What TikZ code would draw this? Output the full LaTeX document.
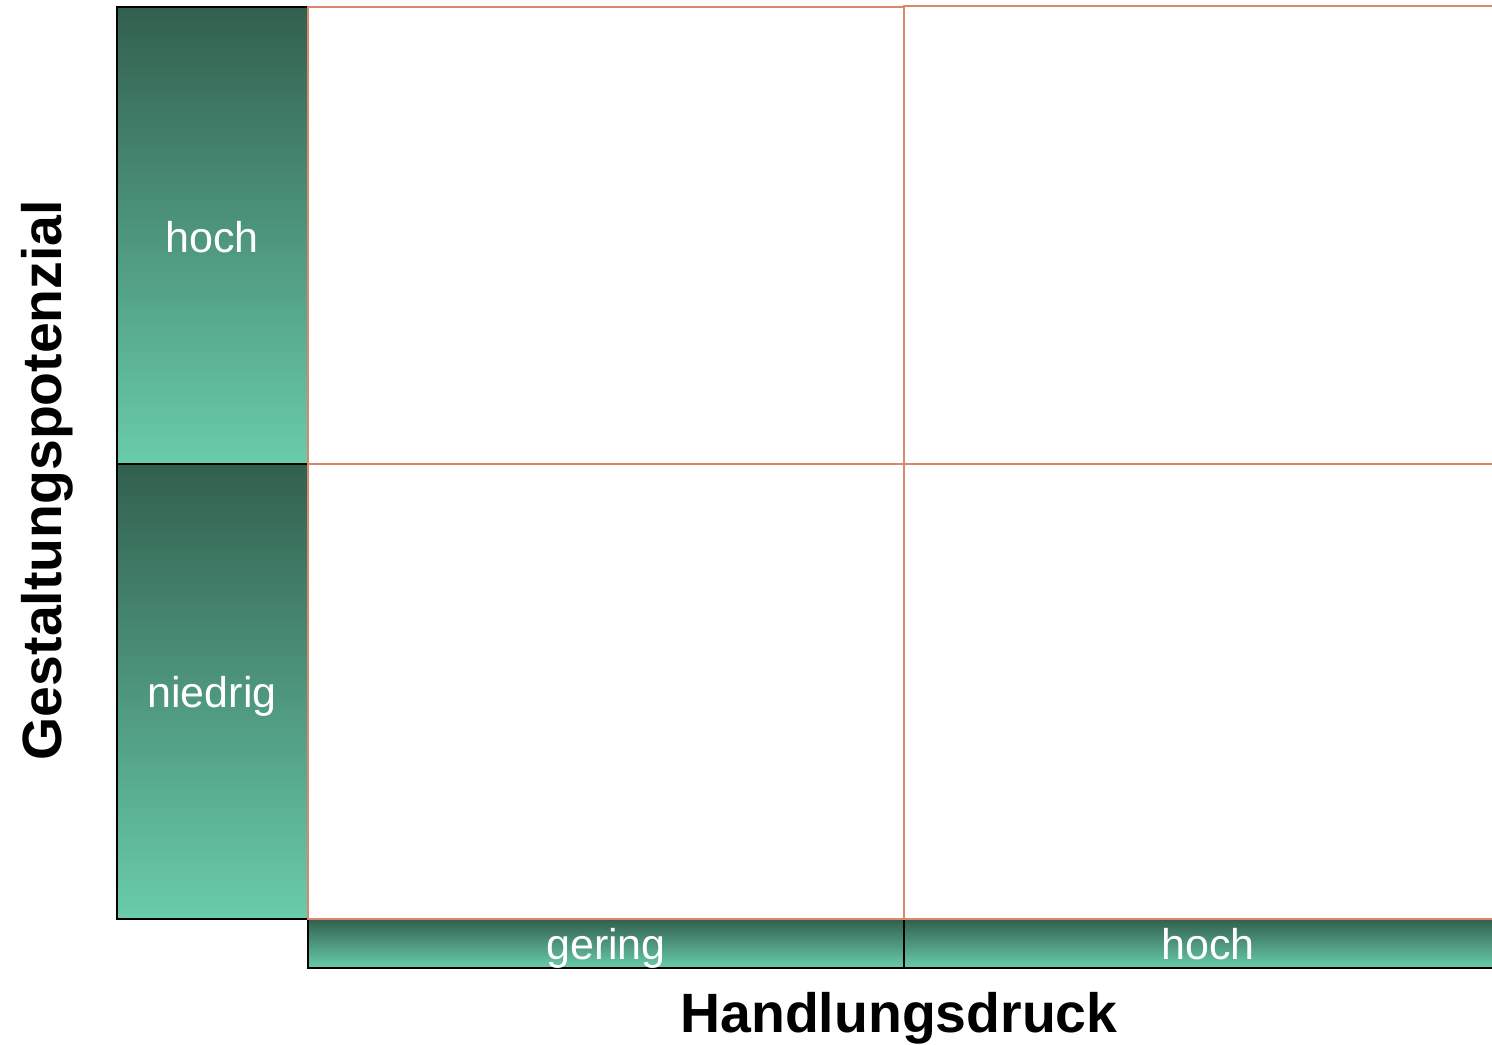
\documentclass[tikz,border=0pt]{standalone}
\usepackage{fontspec}
\setmainfont{Liberation Sans}
\begin{document}
\begin{tikzpicture}[x=0.5pt, y=0.5pt]
    \definecolor{borderColour}{HTML}{000000}
    \definecolor{cellColour}{HTML}{D9896A}
    \definecolor{shadeTop}{HTML}{32604F}
    \definecolor{shadeBottom}{HTML}{69CCAB}

    \tikzset{
        scaleBox/.style={top color=shadeTop, bottom color=shadeBottom, draw=borderColour, line width=1.2pt},
        cellBox/.style={draw=cellColour, line width=1.2pt},
        scaleLabel/.style={text=white, font=\fontsize{21.5}{24}\selectfont, inner sep=0pt, anchor=base},
        axisLabel/.style={font=\bfseries\fontsize{27.7}{32}\selectfont, inner sep=0pt, anchor=base}
    }

    \useasboundingbox (0,0) rectangle (1492,1044);

    % Draw scale boxes for Gestaltungspotenzial
    \shade[scaleBox] (117,580) rectangle (308,1037);
    \shade[scaleBox] (117,125) rectangle (308,580);

    % Draw scale boxes for Handlungsdruck
    \shade[scaleBox] (308,76) rectangle (904,125);
    \shade[scaleBox] (904,76) rectangle (1500,125);

    % Draw matrix cells
    \draw[cellBox] (308,580) rectangle (904,1037);
    \draw[cellBox] (904,580) rectangle (1500,1038);
    \draw[cellBox] (308,125) rectangle (904,580);
    \draw[cellBox] (904,125) rectangle (1500,580);

    % Scale labels
    \node[scaleLabel] (potHigh) at (212,791) {hoch};
    \node[scaleLabel] (potLow) at (212,336) {niedrig};
    \node[scaleLabel] (pressLow) at (606,85) {gering};
    \node[scaleLabel] (pressHigh) at (1208,85) {hoch};

    % Axis labels
    \node[axisLabel] (pressAxis) at (899,12) {Handlungsdruck};
    \node[axisLabel, rotate=90] (potAxis) at (61,564) {Gestaltungspotenzial};

\end{tikzpicture}
\end{document}
